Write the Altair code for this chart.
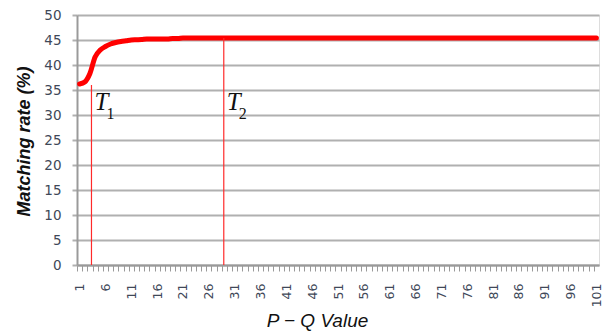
import altair as alt
import pandas as pd

pq_values = list(range(1, 102))
matching_rate = [
    36.2, 36.6, 38.3, 41.6, 43.0, 43.7, 44.2, 44.5, 44.7, 44.85,
    45.0, 45.05, 45.1, 45.2, 45.2, 45.2, 45.2, 45.2, 45.3, 45.3,
    45.4, 45.4, 45.4, 45.4, 45.4, 45.4, 45.4, 45.4, 45.4, 45.4,
    45.4, 45.4, 45.4, 45.4, 45.4, 45.4, 45.4, 45.4, 45.4, 45.4,
    45.4, 45.4, 45.4, 45.4, 45.4, 45.4, 45.4, 45.4, 45.4, 45.4,
    45.4, 45.4, 45.4, 45.4, 45.4, 45.4, 45.4, 45.4, 45.4, 45.4,
    45.4, 45.4, 45.4, 45.4, 45.4, 45.4, 45.4, 45.4, 45.4, 45.4,
    45.4, 45.4, 45.4, 45.4, 45.4, 45.4, 45.4, 45.4, 45.4, 45.4,
    45.4, 45.4, 45.4, 45.4, 45.4, 45.4, 45.4, 45.4, 45.4, 45.4,
    45.4, 45.4, 45.4, 45.4, 45.4, 45.4, 45.4, 45.4, 45.4, 45.4,
    45.4,
]
y_ticks = [0, 5, 10, 15, 20, 25, 30, 35, 40, 45, 50]

marker_names = ["T", "T"]
marker_subs = ["1", "2"]
marker_x = [3.3, 28.9]
marker_top = [36.0, 45.4]
marker_label_y = [31.0, 31.0]
marker_sub_y = [29.2, 29.2]

W, H = 522, 250
GRID = "#b0b0b0"

df = pd.DataFrame({"pq": pq_values, "rate": matching_rate})
mk = pd.DataFrame({
    "x": marker_x, "top": marker_top, "zero": [0, 0],
    "name": marker_names, "sub": marker_subs,
    "ly": marker_label_y, "sy": marker_sub_y,
})

xscale = alt.Scale(domain=[0.5, 101.5], nice=False, zero=False)
yscale = alt.Scale(domain=[0, 50], nice=False)

band = W / 101.0

xaxis = alt.Axis(
    values=pq_values,
    labelExpr="(datum.value - 1) % 5 == 0 ? datum.label : ''",
    labelAngle=-90, labelAlign="right", labelBaseline="middle",
    labelFont="DejaVu Sans", labelFontSize=12.5, labelColor="#404858",
    labelPadding=12, labelOverlap=False, labelFlush=False,
    tickOffset=-band / 2, labelOffset=band / 2,
    tickSize=6, tickColor="#9a9a9a", tickWidth=1,
    domainColor="#9a9a9a", domainWidth=2,
    grid=False,
    title="P − Q  Value", titleFont="Liberation Sans", titleFontStyle="italic",
    titleFontWeight="normal", titleFontSize=19, titleColor="#111111",
    titleX=240, titleY=61, titleAlign="center", titleBaseline="alphabetic",
)
yaxis = alt.Axis(
    values=y_ticks,
    labelFont="DejaVu Sans", labelFontSize=13.5, labelColor="#404858",
    labelPadding=11, labelOverlap=False,
    tickSize=5, tickColor=GRID, tickWidth=2,
    domainColor="#9a9a9a", domainWidth=2,
    grid=True, gridColor=GRID, gridWidth=2, gridOpacity=1,
    title="Matching rate (%)", titleFont="Liberation Sans", titleFontStyle="italic",
    titleFontWeight="bold", titleFontSize=18, titleColor="#111111",
    titleX=-53, titleY=126, titleAlign="center", titleBaseline="middle", titleAngle=-90,
)

base = alt.Chart(df)
line = base.mark_line(color="#ff0000", strokeWidth=5, interpolate="monotone", strokeCap="round").encode(
    x=alt.X("pq:Q", scale=xscale, axis=xaxis),
    y=alt.Y("rate:Q", scale=yscale, axis=yaxis),
)

mbase = alt.Chart(mk)
rules = mbase.mark_rule(color="#ff2a2a", strokeWidth=1.2).encode(
    x=alt.X("x:Q", scale=xscale, axis=xaxis),
    y=alt.Y("zero:Q", scale=yscale, axis=yaxis),
    y2="top:Q",
)
tlabels = mbase.mark_text(
    font="Liberation Serif", fontStyle="italic", fontSize=25, align="left",
    baseline="alphabetic", dx=3, color="#111111",
).encode(x=alt.X("x:Q", scale=xscale, axis=xaxis), y=alt.Y("ly:Q", scale=yscale, axis=yaxis), text="name:N")
slabels = mbase.mark_text(
    font="Liberation Serif", fontSize=16, align="left",
    baseline="alphabetic", dx=15, color="#111111",
).encode(x=alt.X("x:Q", scale=xscale, axis=xaxis), y=alt.Y("sy:Q", scale=yscale, axis=yaxis), text="sub:N")

chart = alt.layer(line, rules, tlabels, slabels).properties(
    width=W, height=H,
    autosize="none",
    padding={"left": 69, "top": 7, "right": 6, "bottom": 68},
).configure_view(stroke=None).configure(background="white")

chart.save("out.html", embed_options={"renderer": "svg", "actions": False})
